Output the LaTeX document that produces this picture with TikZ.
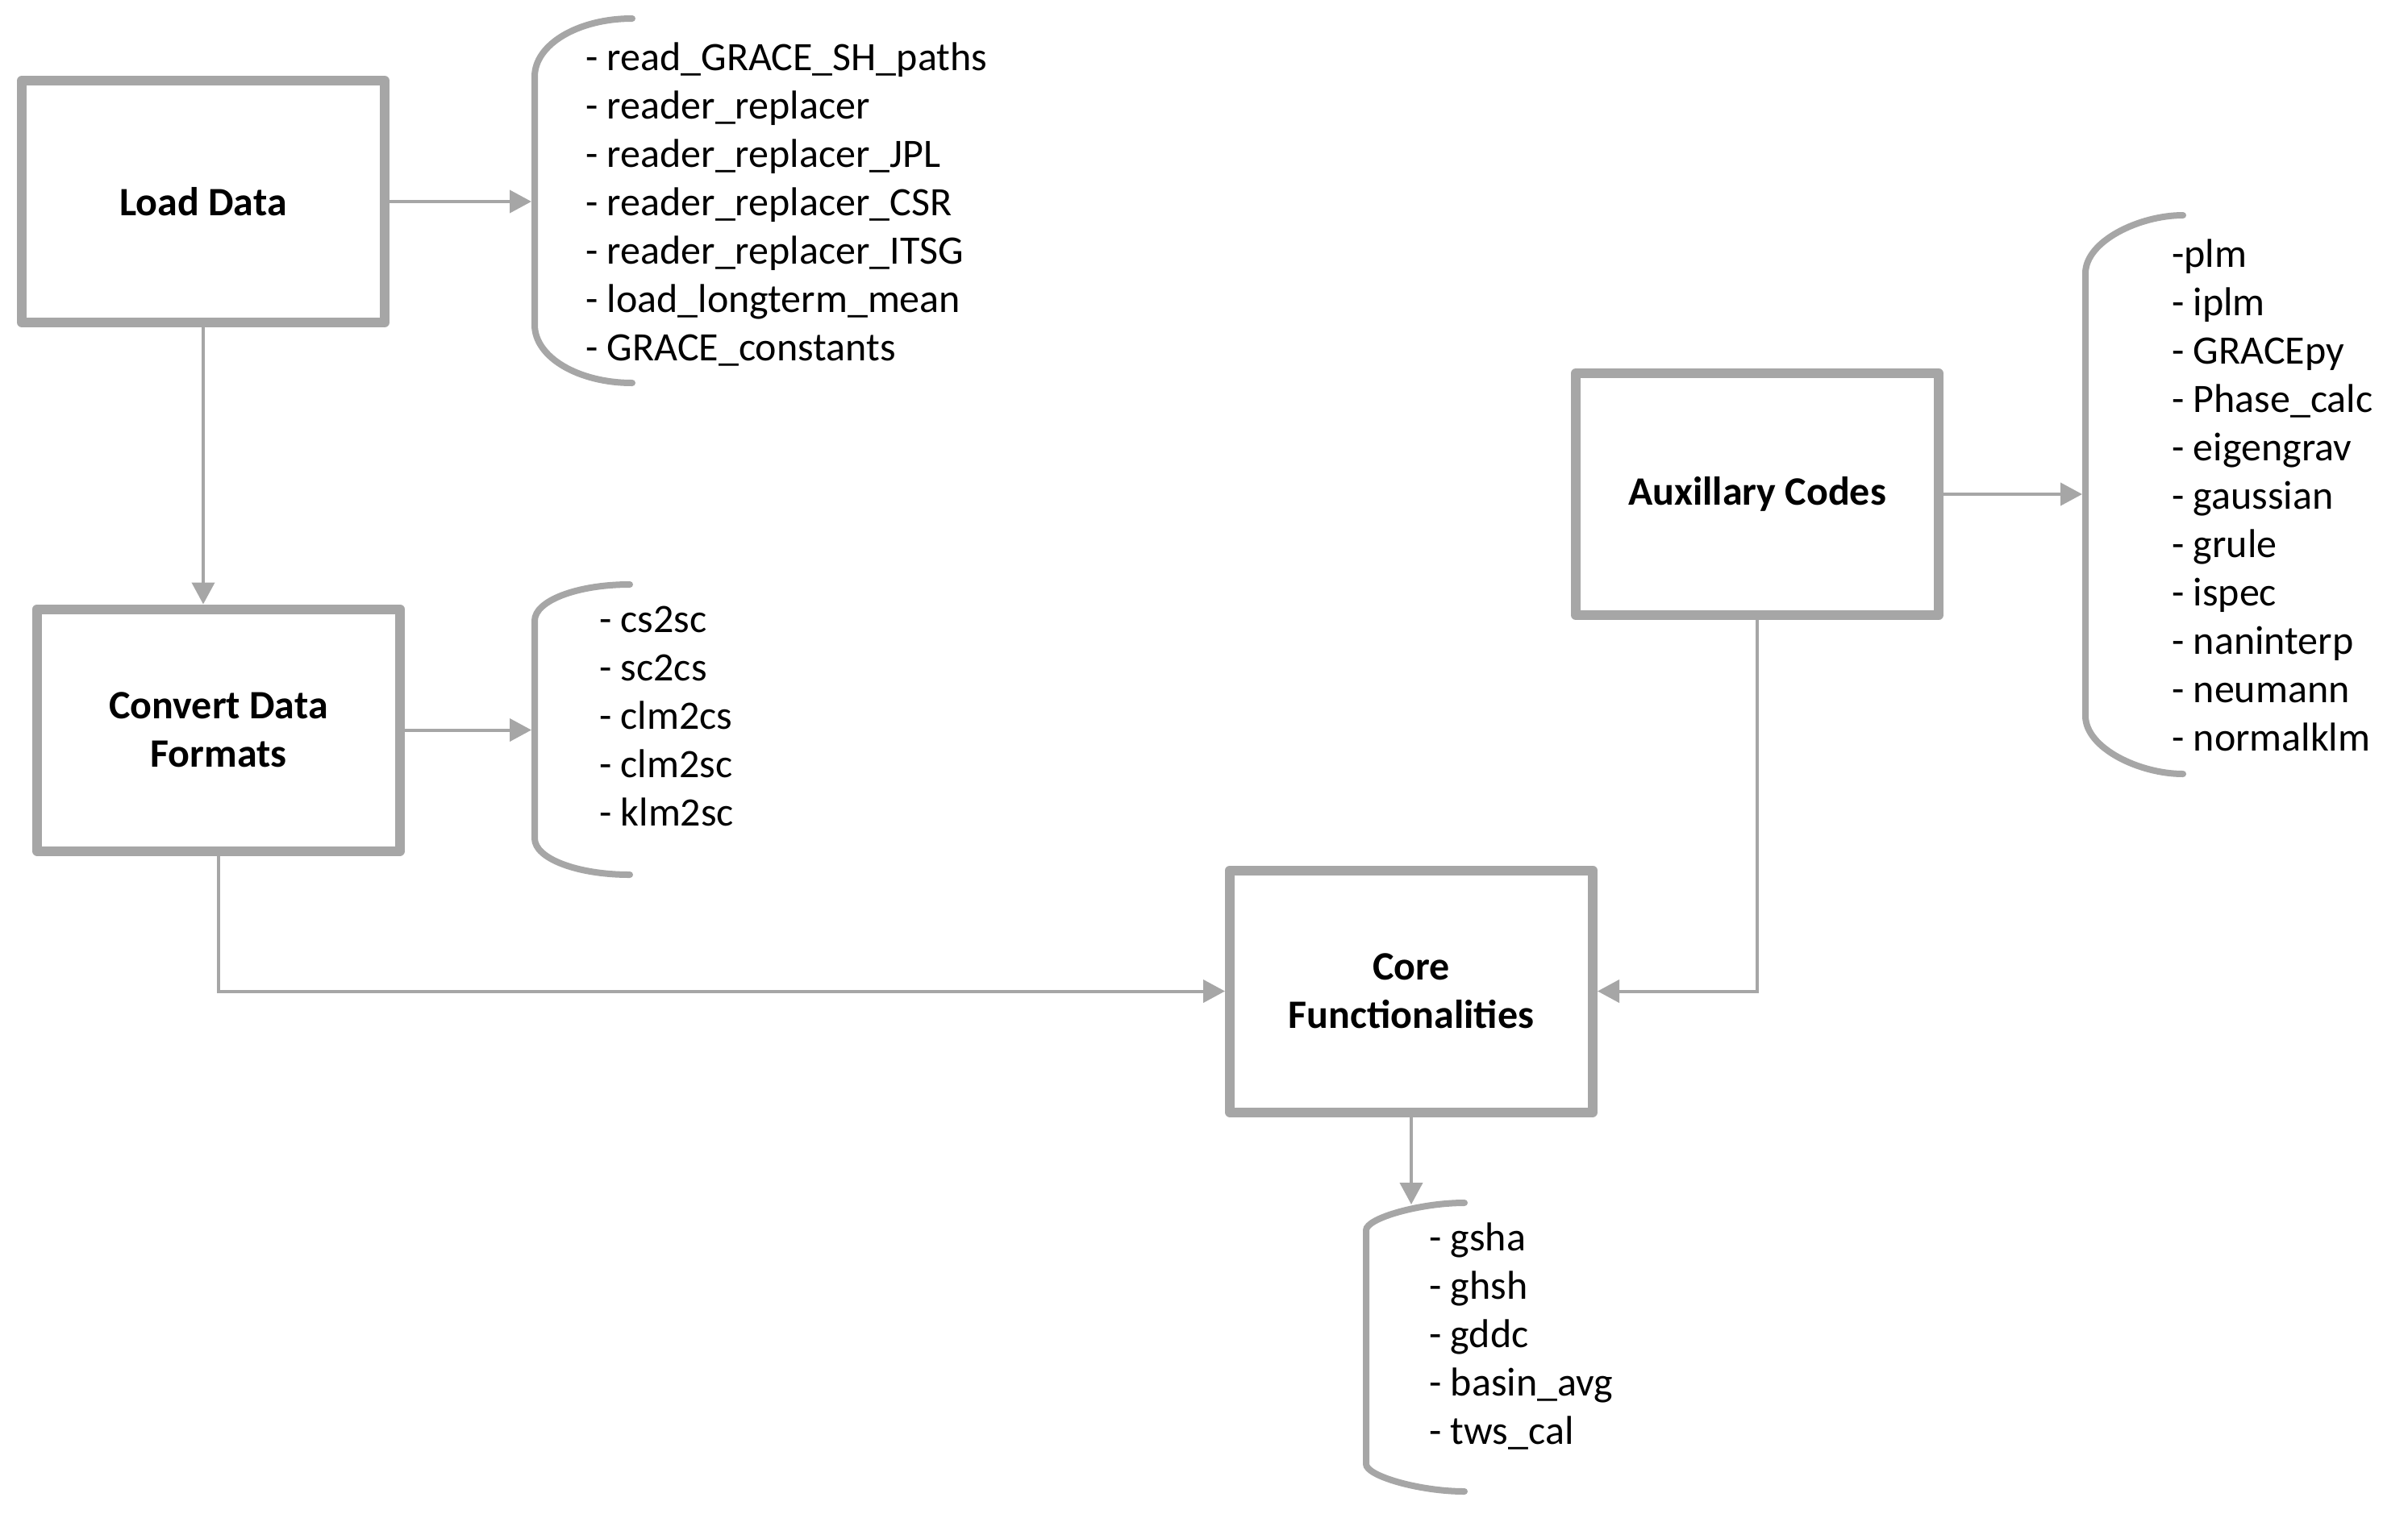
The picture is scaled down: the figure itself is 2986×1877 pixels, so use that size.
\documentclass[tikz,border=0pt]{standalone}
\usepackage{fontspec}
\setmainfont{Carlito}
\usetikzlibrary{arrows.meta}
\definecolor{linegray}{RGB}{166,166,166}
\begin{document}
\begin{tikzpicture}[x=1pt,y=-1pt,
  box/.style={draw=linegray, line width=12pt, line join=round, minimum width=450pt, minimum height=300pt, inner sep=0pt, align=center, font=\fontsize{50}{60}\selectfont\bfseries},
  conn/.style={draw=linegray, line width=4pt, -{Triangle[length=27pt,width=28pt]}},
  brk/.style={draw=linegray, line width=8pt, line cap=round},
  lst/.style={anchor=north west, inner sep=0pt, align=left, font=\fontsize{50}{60}\selectfont}]
\useasboundingbox (0,0) rectangle (2986,1877);

% boxes
\node[box] (load) at (252,250) {Load Data};
\node[box] (conv) at (271,905.5) {Convert Data\\Formats};
\node[box] (aux) at (2179,613) {Auxillary Codes};
\node[box] (core) at (1750,1229.5) {Core\\Functionalities};

% brackets
\draw[brk] (784,23) .. controls (717,23) and (663,55) .. (663,95) -- (663,403) .. controls (663,443) and (717,475) .. (784,475);
\draw[brk] (781,725) .. controls (716,725) and (663,745) .. (663,770) -- (663,1040) .. controls (663,1065) and (716,1085) .. (781,1085);
\draw[brk] (2707,267) .. controls (2653,267) and (2586,299) .. (2586,339) -- (2586,888) .. controls (2586,928) and (2653,960) .. (2707,960);
\draw[brk] (1816,1492) .. controls (1761,1492) and (1694,1511) .. (1694,1526) -- (1694,1816) .. controls (1694,1831) and (1761,1850) .. (1816,1850);

\coordinate (b1) at (659,250);
\coordinate (b2) at (659,905);
\coordinate (b3) at (2582,613);
\coordinate (b4) at (1750,1494);

% lists
\node[lst] (l1) at (726,45) {\strut- read\_GRACE\_SH\_paths\\ \strut- reader\_replacer\\ \strut- reader\_replacer\_JPL\\ \strut- reader\_replacer\_CSR\\ \strut- reader\_replacer\_ITSG\\ \strut- load\_longterm\_mean\\ \strut- GRACE\_constants};
\node[lst] (l2) at (743,742) {\strut- cs2sc\\ \strut- sc2cs\\ \strut- clm2cs\\ \strut- clm2sc\\ \strut- klm2sc};
\node[lst] (l3) at (2693,289) {\strut-plm\\ \strut- iplm\\ \strut- GRACEpy\\ \strut- Phase\_calc\\ \strut- eigengrav\\ \strut- gaussian\\ \strut- grule\\ \strut- ispec\\ \strut- naninterp\\ \strut- neumann\\ \strut- normalklm};
\node[lst] (l4) at (1772,1509) {\strut- gsha\\ \strut- ghsh\\ \strut- gddc\\ \strut- basin\_avg\\ \strut- tws\_cal};

% connectors
\draw[conn] (load.east) -- (load.east -| b1);
\draw[conn] (load.south) -- (load.south |- conv.north);
\draw[conn] (conv.east) -- (conv.east -| b2);
\draw[conn] (conv.south) |- (core.west);
\draw[conn] (aux.south) |- (core.east);
\draw[conn] (aux.east) -- (aux.east -| b3);
\draw[conn] (core.south) -- (core.south |- b4);
\end{tikzpicture}
\end{document}
